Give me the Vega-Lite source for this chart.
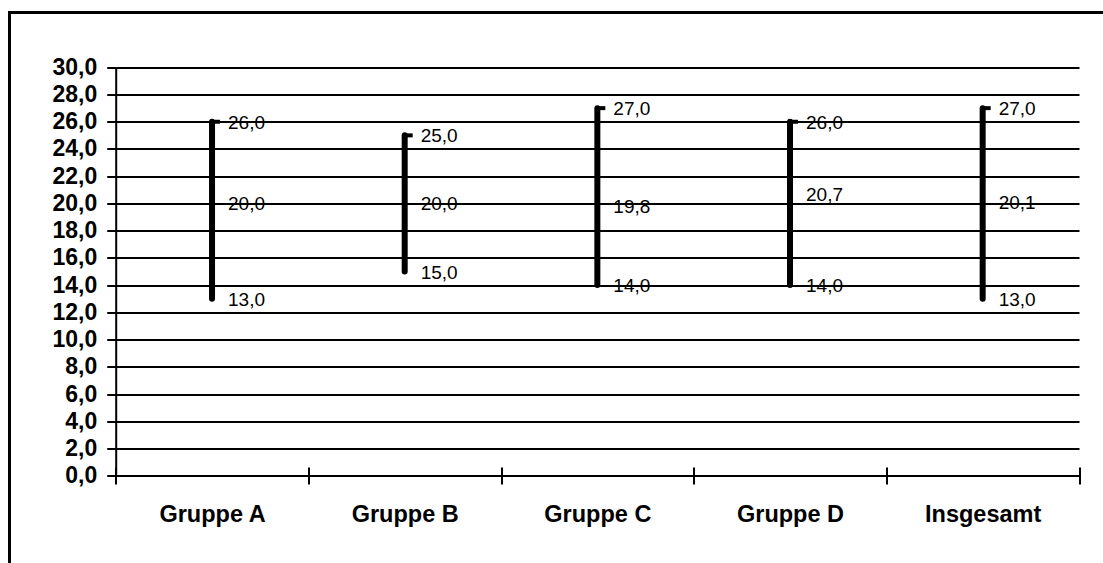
{
  "$schema": "https://vega.github.io/schema/vega-lite/v6.json",
  "width": 1100,
  "height": 560,
  "autosize": {"type": "none"},
  "padding": {"left": 9.5, "top": 12.5, "right": 0, "bottom": 0},
  "background": "white",
  "config": {
    "locale": {
      "number": {"decimal": ",", "thousands": ".", "grouping": [3], "currency": ["", " €"]}
    },
    "view": {"stroke": "black", "strokeWidth": 3, "fill": "white"},
    "font": "Liberation Sans"
  },
  "data": {
    "values": [
      {"gruppe": "Gruppe A", "min": 13.0, "mittel": 20.0, "max": 26.0},
      {"gruppe": "Gruppe B", "min": 15.0, "mittel": 20.0, "max": 25.0},
      {"gruppe": "Gruppe C", "min": 14.0, "mittel": 19.8, "max": 27.0},
      {"gruppe": "Gruppe D", "min": 14.0, "mittel": 20.7, "max": 26.0},
      {"gruppe": "Insgesamt", "min": 13.0, "mittel": 20.1, "max": 27.0}
    ]
  },
  "encoding": {
    "x": {
      "field": "gruppe",
      "type": "nominal",
      "sort": null,
      "title": null,
      "scale": {"range": [106.2, 1069.5], "paddingInner": 0, "paddingOuter": 0},
      "axis": {
        "orient": "bottom",
        "offset": -105.5,
        "domain": false,
        "grid": false,
        "tickBand": "extent",
        "tickSize": 17,
        "tickWidth": 2,
        "tickColor": "black",
        "labelAngle": 0,
        "labelFont": "Liberation Sans",
        "labelFontWeight": "bold",
        "labelFontSize": 23.5,
        "labelColor": "black",
        "labelBaseline": "alphabetic",
        "labelPadding": 37
      }
    }
  },
  "resolve": {"axis": {"y": "independent"}},
  "layer": [
    {
      "mark": {"type": "rule", "strokeWidth": 6, "strokeCap": "round", "color": "black"},
      "encoding": {
        "y": {
          "field": "min",
          "type": "quantitative",
          "title": null,
          "scale": {"domain": [0, 30], "range": [463.2, 54.8], "nice": false, "zero": false},
          "axis": {
            "orient": "left",
            "offset": 0,
            "values": [0, 2, 4, 6, 8, 10, 12, 14, 16, 18, 20, 22, 24, 26, 28, 30],
            "domain": false,
            "ticks": false,
            "labels": false,
            "grid": true,
            "gridColor": "black",
            "gridWidth": 2,
            "gridOpacity": 1
          }
        },
        "y2": {"field": "max"}
      }
    },
    {
      "mark": {"type": "tick", "orient": "horizontal", "size": 8, "thickness": 4, "xOffset": 4, "color": "black", "opacity": 1},
      "encoding": {
        "y": {"field": "max", "type": "quantitative", "title": null, "axis": null}
      }
    },
    {
      "transform": [{"fold": ["min", "mittel", "max"], "as": ["kennwert", "wert"]}],
      "mark": {"type": "text", "align": "left", "baseline": "middle", "dx": 16, "dy": 1, "fontSize": 19, "font": "Liberation Sans", "color": "black"},
      "encoding": {
        "y": {
          "field": "wert",
          "type": "quantitative",
          "title": null,
          "axis": {
            "orient": "left",
            "offset": -106.2,
            "values": [0, 2, 4, 6, 8, 10, 12, 14, 16, 18, 20, 22, 24, 26, 28, 30],
            "format": ".1f",
            "grid": false,
            "domain": true,
            "domainColor": "black",
            "domainWidth": 2,
            "tickSize": 9,
            "tickWidth": 2,
            "tickColor": "black",
            "labelFont": "Liberation Sans",
            "labelFontWeight": "bold",
            "labelFontSize": 23,
            "labelColor": "black",
            "labelPadding": 10
          }
        },
        "text": {"field": "wert", "type": "quantitative", "format": ".1f"}
      }
    }
  ]
}
